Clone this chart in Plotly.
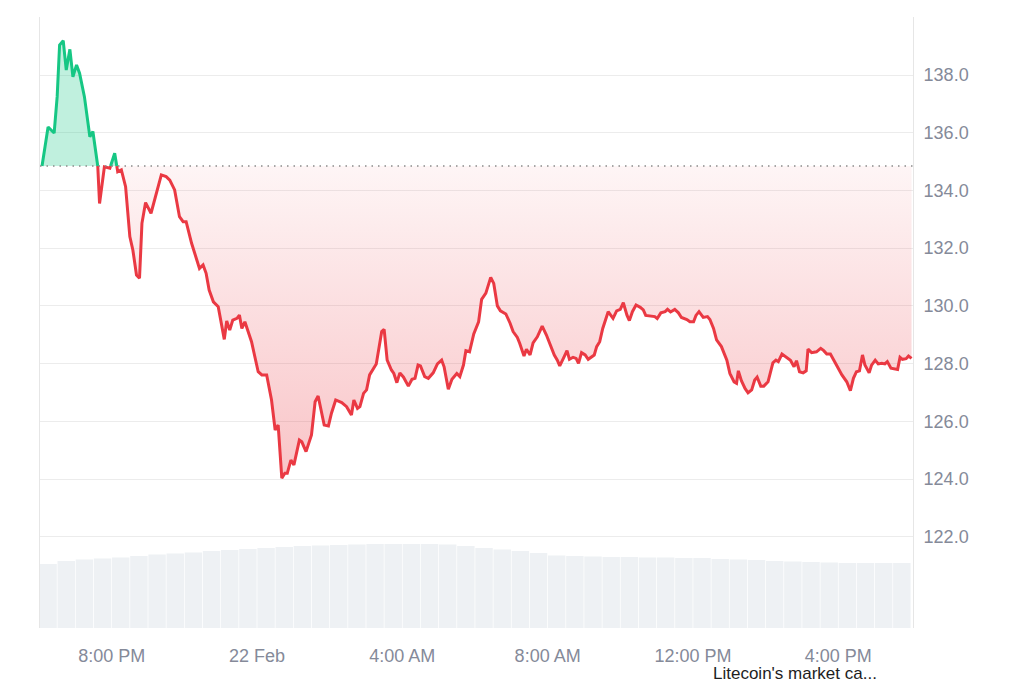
import pandas as pd
import plotly.graph_objects as go

# ---------------- data ----------------
START = pd.Timestamp("2025-02-21 18:00")
BASELINE = 134.85  # opening price (dotted reference line)

# minutes after START for each price sample
PRICE_MINUTES = [
    5, 15, 25, 30, 34, 40, 45, 51, 56, 62, 67, 75, 84, 89, 97, 100, 108, 117, 125, 130,
    136, 143, 150, 155, 161, 166, 170, 176, 185, 194, 202, 210, 216, 224, 232, 238, 243, 252, 260, 265,
    271, 276, 281, 288, 296, 306, 310, 315, 320, 327, 331, 335, 340, 351, 362, 368, 376, 384, 390, 395,
    401, 406, 410, 416, 421, 430, 434, 441, 450, 456, 461, 471, 478, 483, 490, 500, 508, 516, 520, 526,
    530, 536, 541, 546, 557, 566, 570, 575, 582, 586, 591, 596, 602, 610, 616, 621, 626, 630, 637, 643,
    651, 658, 665, 669, 676, 682, 690, 695, 701, 705, 711, 718, 726, 731, 738, 746, 751, 757, 762, 771,
    778, 783, 790, 794, 801, 805, 811, 816, 823, 831, 838, 845, 851, 856, 860, 866, 872, 876, 882, 887,
    891, 896, 902, 907, 913, 917, 921, 926, 931, 935, 940, 948, 954, 960, 965, 971, 975, 980, 986, 993,
    998, 1002, 1009, 1017, 1021, 1027, 1034, 1038, 1043, 1050, 1056, 1061, 1070, 1075, 1081, 1085, 1090, 1097, 1104, 1108,
    1114, 1119, 1127, 1136, 1141, 1148, 1152, 1155, 1160, 1166, 1171, 1177, 1182, 1186, 1192, 1197, 1204, 1212, 1217, 1221,
    1227, 1235, 1241, 1247, 1251, 1256, 1262, 1267, 1270, 1276, 1284, 1291, 1296, 1301, 1307, 1317, 1326, 1334, 1340, 1345,
    1350, 1355, 1360, 1364, 1371, 1375, 1381, 1386, 1392, 1397, 1401, 1407, 1414, 1418, 1422, 1426, 1432, 1436, 1441,
]
PRICES = [
    134.85, 136.20, 135.99, 137.25, 139.04, 139.19, 138.17, 138.89, 137.94, 138.35, 138.06, 137.25, 135.86, 136.04, 134.85, 133.55, 134.82, 134.77, 135.29, 134.65,
    134.71, 134.13, 132.40, 131.94, 131.07, 130.96, 132.86, 133.58, 133.21, 133.90, 134.54, 134.48, 134.36, 134.02, 133.09, 132.92, 132.92, 132.17, 131.59, 131.30,
    131.42, 131.13, 130.55, 130.14, 129.97, 128.84, 129.48, 129.16, 129.51, 129.57, 129.68, 129.22, 129.45, 128.76, 127.72, 127.61, 127.61, 126.74, 125.70, 125.87,
    124.03, 124.20, 124.20, 124.66, 124.49, 125.35, 125.29, 124.95, 125.53, 126.68, 126.88, 125.87, 125.84, 126.28, 126.74, 126.65, 126.51, 126.22, 126.74, 126.45,
    126.51, 126.97, 127.09, 127.61, 127.99, 129.11, 129.19, 128.12, 127.78, 127.66, 127.34, 127.68, 127.53, 127.22, 127.46, 127.49, 127.95, 127.92, 127.55, 127.49,
    127.68, 127.99, 128.12, 127.89, 127.11, 127.46, 127.66, 127.55, 127.95, 128.45, 128.41, 129.03, 129.45, 130.23, 130.44, 130.99, 130.78, 130.00, 129.83, 129.72,
    129.40, 129.11, 128.91, 128.70, 128.26, 128.50, 128.30, 128.72, 128.93, 129.30, 128.99, 128.64, 128.30, 128.12, 127.92, 128.18, 128.45, 128.15, 128.22, 128.18,
    128.01, 128.38, 128.30, 128.15, 128.26, 128.30, 128.59, 128.76, 129.22, 129.45, 129.80, 129.57, 129.83, 129.88, 130.11, 129.68, 129.49, 129.80, 130.03, 129.95,
    129.86, 129.67, 129.65, 129.63, 129.56, 129.76, 129.80, 129.88, 129.79, 129.88, 129.76, 129.60, 129.53, 129.45, 129.45, 129.67, 129.80, 129.60, 129.63, 129.53,
    129.22, 128.82, 128.59, 128.12, 127.66, 127.37, 127.32, 127.75, 127.41, 127.14, 126.99, 127.09, 127.43, 127.53, 127.22, 127.22, 127.37, 128.03, 128.12, 128.07,
    128.33, 128.22, 128.12, 127.89, 128.10, 127.72, 127.68, 127.75, 128.50, 128.38, 128.41, 128.53, 128.45, 128.33, 128.33, 127.95, 127.61, 127.37, 127.06, 127.49,
    127.72, 127.75, 128.30, 127.95, 127.68, 127.95, 128.12, 127.99, 128.01, 127.99, 128.07, 127.84, 127.80, 127.80, 128.22, 128.15, 128.17, 128.26, 128.18,
]

# volume bars, one per 30 minutes (centre minutes after START), in $B
VOLUME_MINUTES = [15 + 30 * k for k in range(48)]
VOLUME_B = [
    1.047, 1.097, 1.121, 1.137, 1.154, 1.178, 1.203, 1.219, 1.236, 1.260, 1.277, 1.293,
    1.309, 1.326, 1.342, 1.350, 1.358, 1.367, 1.375, 1.375, 1.375, 1.375, 1.367, 1.342,
    1.309, 1.285, 1.260, 1.228, 1.187, 1.178, 1.170, 1.162, 1.162, 1.154, 1.154, 1.146,
    1.146, 1.129, 1.121, 1.113, 1.097, 1.088, 1.080, 1.072, 1.064, 1.064, 1.064, 1.064,
]

X_TICK_TIMES = ["2025-02-21 20:00", "2025-02-22 00:00", "2025-02-22 04:00",
                "2025-02-22 08:00", "2025-02-22 12:00", "2025-02-22 16:00"]
X_TICK_LABELS = ["8:00 PM", "22 Feb", "4:00 AM", "8:00 AM", "12:00 PM", "4:00 PM"]
Y_TICK_VALUES = [122, 124, 126, 128, 130, 132, 134, 136, 138, 140]
Y_TICK_LABELS = ["122.0", "124.0", "126.0", "128.0", "130.0", "132.0", "134.0", "136.0", "138.0", ""]

# ---------------- styling ----------------
RED = "#ea3943"
GREEN = "#16c784"
GRID = "#ececec"
TICK_COLOR = "#858a99"
FONT = "Liberation Sans, Arial, sans-serif"

times = [START + pd.Timedelta(minutes=m) for m in PRICE_MINUTES]

# insert baseline crossing points so the line can switch colour exactly at the baseline
xs, ys = [], []
for i, (t, p) in enumerate(zip(times, PRICES)):
    if i > 0:
        p0 = PRICES[i - 1]
        if (p0 - BASELINE) * (p - BASELINE) < 0:
            f = (BASELINE - p0) / (p - p0)
            xs.append(times[i - 1] + (t - times[i - 1]) * f)
            ys.append(BASELINE)
    xs.append(t)
    ys.append(p)

red_fill = [min(v, BASELINE) for v in ys]
green_fill = [max(v, BASELINE) for v in ys]
red_line = [v if v <= BASELINE else None for v in ys]
green_line = [v if v >= BASELINE else None for v in ys]
base = [BASELINE] * len(xs)

fig = go.Figure()

# volume
fig.add_trace(go.Bar(
    x=[START + pd.Timedelta(minutes=m) for m in VOLUME_MINUTES], y=VOLUME_B,
    marker=dict(color="#eef1f4", line=dict(width=0)), yaxis="y2",
    hoverinfo="skip", showlegend=False,
))

# red fill (below baseline)
fig.add_trace(go.Scatter(x=xs, y=base, mode="lines", line=dict(width=0),
                         hoverinfo="skip", showlegend=False))
fig.add_trace(go.Scatter(
    x=xs, y=red_fill, mode="lines", line=dict(width=0), fill="tonexty",
    fillgradient=dict(type="vertical", start=124.0, stop=BASELINE,
                      colorscale=[[0, "rgba(234,57,67,0.30)"], [1, "rgba(234,57,67,0.05)"]]),
    hoverinfo="skip", showlegend=False,
))
# green fill (above baseline)
fig.add_trace(go.Scatter(x=xs, y=base, mode="lines", line=dict(width=0),
                         hoverinfo="skip", showlegend=False))
fig.add_trace(go.Scatter(
    x=xs, y=green_fill, mode="lines", line=dict(width=0), fill="tonexty",
    fillcolor="rgba(22,199,132,0.27)", hoverinfo="skip", showlegend=False,
))

# price lines
fig.add_trace(go.Scatter(x=xs, y=red_line, mode="lines", connectgaps=False,
                         line=dict(color=RED, width=3), hoverinfo="skip", showlegend=False))
fig.add_trace(go.Scatter(x=xs, y=green_line, mode="lines", connectgaps=False,
                         line=dict(color=GREEN, width=3), hoverinfo="skip", showlegend=False))

# dotted baseline
fig.add_shape(type="line", xref="paper", x0=0, x1=1, yref="y", y0=BASELINE, y1=BASELINE,
              line=dict(color="#8a8a8a", width=1.4, dash="1.5px,5px"))

# the page body has an 8px margin, so the figure is 8px smaller on each axis
fig.update_layout(
    width=1016, height=675,
    margin=dict(l=32, r=111, t=9, b=55),
    paper_bgcolor="white", plot_bgcolor="white",
    font=dict(family=FONT, size=18, color=TICK_COLOR),
    showlegend=False, bargap=0.04,
    xaxis=dict(
        type="date",
        range=["2025-02-21 18:01:39", "2025-02-22 18:03:25"],
        tickvals=X_TICK_TIMES, ticktext=X_TICK_LABELS,
        showgrid=False, zeroline=False, ticks="", showline=False,
        ticklabelstandoff=15, tickfont=dict(size=18, color=TICK_COLOR),
    ),
    yaxis=dict(
        side="right", range=[118.84, 140.01],
        tickvals=Y_TICK_VALUES, ticktext=Y_TICK_LABELS,
        showgrid=True, gridcolor=GRID, gridwidth=1, zeroline=False,
        showline=True, linecolor="#e6e6e6", linewidth=1, mirror=True,
        ticks="", ticklabelstandoff=6, tickfont=dict(size=18, color=TICK_COLOR),
    ),
    yaxis2=dict(overlaying="y", range=[0, 10], visible=False, fixedrange=True),
    annotations=[dict(
        text="Litecoin's market ca...", xref="paper", yref="paper",
        x=0.7697, y=-0.0737,
        xanchor="left", yanchor="middle", showarrow=False, borderpad=0,
        font=dict(family=FONT, size=17, color="#1e1e1e"),
    )],
)

fig.write_html("out.html")
